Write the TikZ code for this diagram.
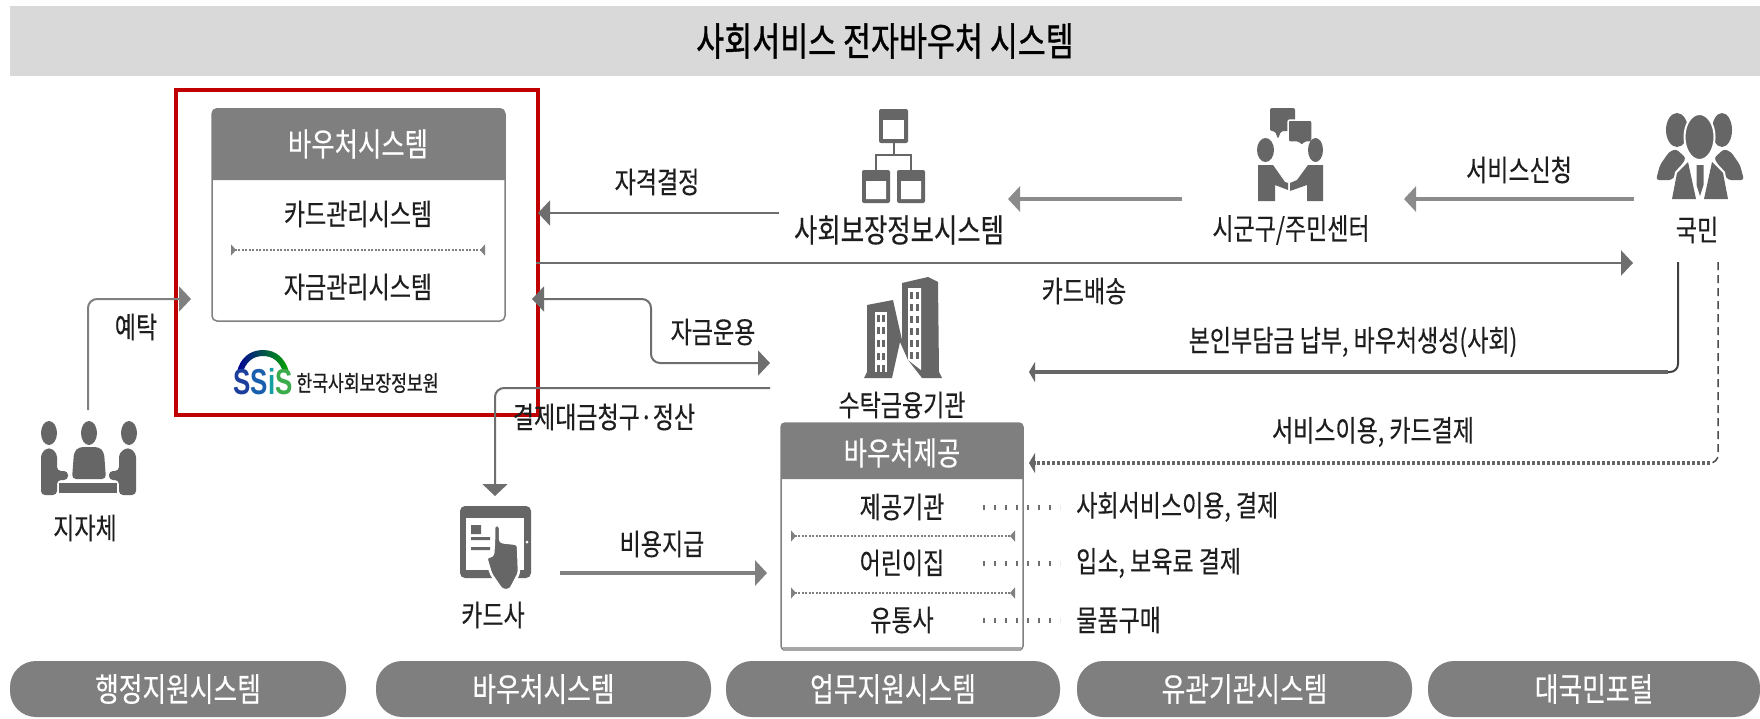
\documentclass[tikz,border=0pt]{standalone}
\usepackage{fontspec}
\newfontfamily\kr[FakeStretch=0.78,FakeBold=0.25]{Noto Sans CJK KR}
\newfontfamily\krt[FakeStretch=0.78,FakeBold=0.9]{Noto Sans CJK KR}
\newfontfamily\krl[FakeStretch=0.78,FakeBold=0.8]{Noto Sans CJK KR}
\newfontfamily\logofont[FakeStretch=0.72]{Liberation Sans}
\usetikzlibrary{arrows.meta}
\definecolor{ink}{HTML}{1E1E1E}
\definecolor{bar}{HTML}{D9D9D9}
\definecolor{hdr}{HTML}{7F7F7F}
\definecolor{ico}{HTML}{666666}
\definecolor{lin}{HTML}{6E6E6E}
\definecolor{redb}{HTML}{C00000}
\tikzset{
  x=1pt,y=-1pt,
  lab/.style={font=\kr\fontsize{29.5}{34}\selectfont,text=ink,inner sep=0pt},
  hdt/.style={font=\kr\fontsize{32.5}{36}\selectfont,text=white,inner sep=0pt},
  pill/.style={fill=hdr,rounded corners=26pt,minimum height=56pt,inner sep=0pt,font=\kr\fontsize{33}{38}\selectfont,text=white},
  head/.style={-{Triangle[length=12pt,width=25pt]}},
  headb/.style={-{Triangle[length=6pt,width=20pt]}},
  wire/.style={draw=lin,line width=2pt,rounded corners=9pt},
  thick line/.style={draw=lin!80,line width=4pt},
  sep/.style={draw=gray,line width=1.2pt,dash pattern=on 2pt off 1.5pt,{Triangle[reversed,length=5pt,width=11pt]}-{Triangle[reversed,length=5pt,width=11pt]}},
  dots/.style={draw=lin,line width=5pt,dash pattern=on 2pt off 9pt},
  ic/.style={fill=ico,draw=none},
}
\begin{document}
\begin{tikzpicture}
\useasboundingbox (0,0) rectangle (1760,718);
\fill[white] (0,0) rectangle (1760,718);
% title bar
\node[fill=bar,minimum width=1750pt,minimum height=70pt,inner sep=0pt,font=\krt\fontsize{39}{44}\selectfont,text=black] (title) at (885,41) {사회서비스 전자바우처 시스템};

% red highlight
\node[draw=redb,line width=4pt,minimum width=362pt,minimum height=325pt,inner sep=0pt] (red) at (357,252.5) {};

% voucher system box
\node[draw=gray,line width=1.5pt,rounded corners=5pt,minimum width=293pt,minimum height=212pt,inner sep=0pt] (vbox) at (358.5,215) {};
\fill[hdr] (212,180) [rounded corners=5pt] -- (212,108) -- (505,108) [sharp corners] -- (505,180) -- cycle;
\node[hdt] (vt) at (358,144) {바우처시스템};
\node[lab] (v1) at (358,214) {카드관리시스템};
\coordinate (s1a) at (231,250); \coordinate (s1b) at (485,250);
\draw[sep] (s1a) -- (s1b);
\node[lab] (v2) at (358,287) {자금관리시스템};

% logo
\shade[left color=blue!60!black,middle color=teal!80!cyan,right color=green!65!black]
  (237,372) .. controls (240,358) and (250,350) .. (263,350) .. controls (276,350) and (285,358) .. (289,372) -- (283,372) .. controls (280,362) and (273,356) .. (263,356) .. controls (253,356) and (246,362) .. (243,372) -- cycle;
\node[inner sep=0pt,font=\logofont\bfseries\fontsize{36}{40}\selectfont] (ssis) at (263,382) {\textcolor[HTML]{1C3F9E}{S}\textcolor[HTML]{1A5FAE}{S}\textcolor[HTML]{14A0A0}{i}\textcolor[HTML]{3BAB4B}{S}};
\node[inner sep=0pt,font=\krl\fontsize{22}{26}\selectfont,text=ink] (kssis) at (367.5,383) {한국사회보장정보원};

% 지자체 icon
\fill[ic] (49,433) ellipse (8 and 12) (89,433) ellipse (8 and 12) (129,433) ellipse (8 and 12);
\fill[ic,rounded corners=4pt] (41,495) -- (41,453) -- (49,447) -- (57,453) -- (57,471) -- (68,471) -- (68,480) -- (57,480) -- (57,495) -- cycle;
\fill[ic,rounded corners=4pt] (136,495) -- (136,453) -- (128,447) -- (119,453) -- (119,471) -- (109,471) -- (109,480) -- (119,480) -- (119,495) -- cycle;
\fill[ic,rounded corners=4pt] (72,479) -- (74,452) -- (79,447) -- (99,447) -- (104,452) -- (106,479) -- cycle;
\fill[ic] (59,483) rectangle (117,493);
\node[lab] (jj) at (85,528) {지자체};

% 사회보장 icon
\fill[ic,rounded corners=2pt] (879,109) rectangle (908,143);
\fill[white] (883,120) rectangle (904,139);
\draw[draw=ico,line width=2pt] (893.5,143) -- (893.5,155) (876,170) -- (876,155) -- (911,155) -- (911,170);
\fill[ic,rounded corners=2pt] (862,170) rectangle (890,203);
\fill[ic,rounded corners=2pt] (897,170) rectangle (925,203);
\fill[white] (866,181) rectangle (886,199) (901,181) rectangle (921,199);
\node[lab,font=\kr\fontsize{32.5}{36}\selectfont] (ss) at (899,230) {사회보장정보시스템};

% 시군구 icon
\fill[ic,rounded corners=2pt] (1270,108) -- (1295,108) -- (1295,131) -- (1281,131) -- (1278,139) -- (1275,131) -- (1270,131) -- cycle;
\draw[white,line width=1.5pt,fill=ico,rounded corners=2pt] (1288,120) -- (1312,120) -- (1312,142) -- (1305,142) -- (1302,146) -- (1298,142) -- (1288,142) -- cycle;
\fill[ic] (1265.5,150) ellipse (8.5 and 12) (1315.5,150) ellipse (7.5 and 12);
\fill[ic] (1258,165) -- (1273,165) -- (1285,182) -- (1288,183) -- (1288,190) -- (1275,185) -- (1275,201) -- (1258,201) -- cycle;
\fill[ic] (1323,165) -- (1308,165) -- (1297,180) -- (1290,183) -- (1290,191) -- (1307,185) -- (1307,201) -- (1323,201) -- cycle;
\node[lab] (sg) at (1291,230) {시군구/주민센터};

% 국민 icon
\fill[ic] (1677,130) ellipse (11 and 17) (1722,130) ellipse (10 and 17);
\fill[ic,rounded corners=3pt] (1656,180) -- (1660,165) -- (1669,152) -- (1676,149) -- (1686,158) -- (1672,180) -- cycle;
\fill[ic,rounded corners=3pt] (1744,180) -- (1740,165) -- (1731,152) -- (1724,149) -- (1714,158) -- (1728,180) -- cycle;
\draw[white,line width=2pt,fill=ico] (1699.5,137) ellipse (15 and 23);
\fill[white] (1670,200) -- (1675,172) -- (1687,159) -- (1713,159) -- (1725,172) -- (1730,200) -- cycle;
\fill[ic] (1672,199) -- (1677,173) -- (1688,162) -- (1696,199) -- cycle;
\fill[ic] (1728,199) -- (1723,173) -- (1712,162) -- (1704,199) -- cycle;
\fill[ic] (1696.5,165) -- (1703.5,165) -- (1703.5,185) -- (1700,196) -- (1696.5,185) -- cycle;
\node[lab] (km) at (1697,230) {국민};

% 건물 icon
\fill[ic] (864,378) -- (867,372) -- (867,305) -- (893,300) -- (897,318) -- (902,340) -- (902,283) -- (928,277) -- (938,282) -- (939,372) -- (942,378) -- (922,378) -- (908,360) -- (900,342) -- (892,378) -- cycle;
\fill[white] (875,312) rectangle (887,372);
\fill[white] (908,288) -- (921,288) -- (921,370) -- (908,360) -- cycle;
\foreach \yy in {315,327,340,353,365} { \fill[ic] (877,\yy) rectangle +(3,7); \fill[ic] (882,\yy) rectangle +(3,7); }
\foreach \yy in {292,304,316,328,340,352} { \fill[ic] (910,\yy) rectangle +(3,7); \fill[ic] (916,\yy) rectangle +(3,7); }
\node[lab] (tb) at (902,405) {수탁금융기관};

% 카드 icon
\fill[ic,rounded corners=5pt] (460,506) rectangle (531,578);
\fill[white] (466,518) rectangle (524,570);
\fill[white] (527,542) circle (1.5);
\fill[ic] (471,525) rectangle (481,534) (471,537) rectangle (490,540) (471,547) rectangle (490,550);
\draw[white,line width=2.5pt,fill=ico,rounded corners=3pt] (494,542) -- (494,525) -- (500,525) -- (500,542) -- (518,544) -- (519,573) -- (510,590) -- (502,590) -- (491,574) -- (486,557) -- (493,556) -- cycle;
\node[lab] (cd) at (493,615) {카드사};

% voucher provider box
\node[draw=gray,line width=1.5pt,rounded corners=4pt,minimum width=242pt,minimum height=227pt,inner sep=0pt] (pbox) at (902,536.5) {};
\fill[hdr] (781,479) [rounded corners=4pt] -- (781,423) -- (1023,423) [sharp corners] -- (1023,479) -- cycle;
\draw[draw=gray!70,line width=3.5pt] (783,649) -- (1021,649);
\node[hdt] (pt) at (902,453) {바우처제공};
\node[lab] (p1) at (902,507) {제공기관};
\coordinate (s2a) at (791,536); \coordinate (s2b) at (1015,536);
\draw[sep] (s2a) -- (s2b);
\node[lab] (p2) at (902,563) {어린이집};
\coordinate (s3a) at (791,593); \coordinate (s3b) at (1015,593);
\draw[sep] (s3a) -- (s3b);
\node[lab] (p3) at (902,620) {유통사};
\node[lab,anchor=west] (q1) at (1076,507) {사회서비스이용, 결제};
\node[lab,anchor=west] (q2) at (1076,563) {입소, 보육료 결제};
\node[lab,anchor=west] (q3) at (1076,620) {물품구매};
\coordinate (d1a) at (983,507); \coordinate (d1b) at (1060,507);
\coordinate (d2a) at (983,563); \coordinate (d2b) at (1060,563);
\coordinate (d3a) at (983,620); \coordinate (d3b) at (1060,620);
\draw[dots] (d1a) -- (d1b); \draw[dots] (d2a) -- (d2b); \draw[dots] (d3a) -- (d3b);

% connectors
\coordinate (a1s) at (88,410); \coordinate (a1c) at (88,299); \coordinate (a1e) at (191,299);
\draw[wire,draw=gray,head] (a1s) -- (a1c) -- (a1e);
\node[lab] (l1) at (136,327) {예탁};

\coordinate (a2s) at (779,213); \coordinate (a2e) at (538,213);
\draw[wire,head] (a2s) -- (a2e);
\node[lab] (l2) at (657,182) {자격결정};

\coordinate (a3s) at (1182,199); \coordinate (a3e) at (1008,199);
\draw[thick line,head] (a3s) -- (a3e);
\coordinate (a4s) at (1634,199); \coordinate (a4e) at (1404,199);
\draw[thick line,head] (a4s) -- (a4e);
\node[lab] (l4) at (1519,170) {서비스신청};

\coordinate (a5s) at (536,263); \coordinate (a5e) at (1633,263);
\draw[wire,line width=2.5pt,head] (a5s) -- (a5e);
\node[lab] (l5) at (1084,291) {카드배송};

\coordinate (a6s) at (770,363); \coordinate (a6c1) at (651,363); \coordinate (a6c2) at (651,299); \coordinate (a6e) at (532,299);
\draw[wire,{Triangle[length=12pt,width=25pt]}-{Triangle[length=12pt,width=25pt]}] (a6e) -- (a6c2) -- (a6c1) -- (a6s);
\node[lab] (l6) at (713,332) {자금운용};

\coordinate (a7s) at (770,388); \coordinate (a7c) at (495,388); \coordinate (a7e) at (495,496);
\draw[wire,head] (a7s) -- (a7c) -- (a7e);
\node[lab] (l7) at (604,417) {결제대금청구·정산};

\coordinate (a8s) at (560,573); \coordinate (a8e) at (767,573);
\draw[thick line,draw=gray,head] (a8s) -- (a8e);
\node[lab] (l8) at (662,544) {비용지급};

\coordinate (a9s) at (1678,262); \coordinate (a9c) at (1678,372); \coordinate (a9e) at (1029,372);
\draw[draw=black!75,line width=2pt,rounded corners=8pt] (a9s) -- (a9c) -- ++(-12,0);
\draw[draw=ico,line width=4.5pt,headb] (1668,372) -- (a9e);
\node[lab] (l9) at (1353,342) {본인부담금 납부, 바우처생성(사회)};

\coordinate (a10s) at (1718,262); \coordinate (a10c) at (1718,463); \coordinate (a10e) at (1029,463);
\draw[draw=black!70,line width=1.5pt,dash pattern=on 8pt off 5pt,rounded corners=8pt] (a10s) -- (a10c) -- ++(-10,0);
\draw[draw=ico,line width=4.5pt,dash pattern=on 3pt off 2pt,headb] (1710,463) -- (a10e);
\node[lab] (l10) at (1373,432) {서비스이용, 카드결제};

% bottom pills
\node[pill,minimum width=336pt] (b1) at (178,689) {행정지원시스템};
\node[pill,minimum width=335pt] (b2) at (543.5,689) {바우처시스템};
\node[pill,minimum width=334pt] (b3) at (893,689) {업무지원시스템};
\node[pill,minimum width=335pt] (b4) at (1244.5,689) {유관기관시스템};
\node[pill,minimum width=332pt] (b5) at (1594,689) {대국민포털};
\end{tikzpicture}
\end{document}
